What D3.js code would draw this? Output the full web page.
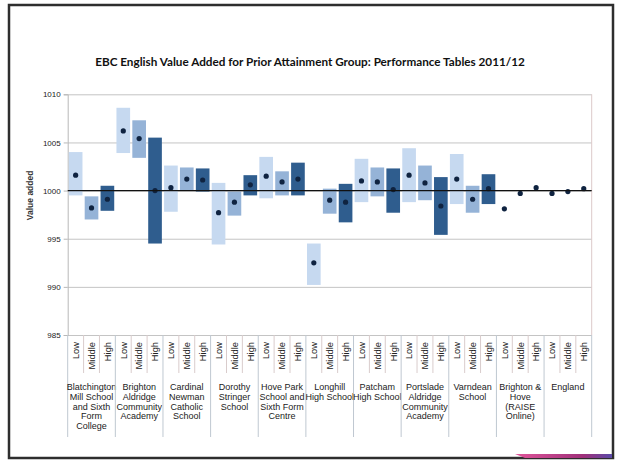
<!DOCTYPE html>
<html>
<head>
<meta charset="utf-8">
<script src="https://cdn.jsdelivr.net/npm/d3@7"></script>
<style>
  html, body { margin: 0; padding: 0; background: #fff; }
  #chart { width: 618px; height: 461px; }
  text { font-family: "Liberation Sans", Arial, sans-serif; }
</style>
</head>
<body>
<div id="chart"></div>
<script>
//Datos
const groups = [
  'Blatchington Mill School and Sixth Form College',
  'Brighton Aldridge Community Academy',
  'Cardinal Newman Catholic School',
  'Dorothy Stringer School',
  'Hove Park School and Sixth Form Centre',
  'Longhill High School',
  'Patcham High School',
  'Portslade Aldridge Community Academy',
  'Varndean School',
  'Brighton & Hove (RAISE Online)',
  'England'
];
const groupLines = [
  ['Blatchington', 'Mill School', 'and Sixth', 'Form', 'College'],
  ['Brighton', 'Aldridge', 'Community', 'Academy'],
  ['Cardinal', 'Newman', 'Catholic', 'School'],
  ['Dorothy', 'Stringer', 'School'],
  ['Hove Park', 'School and', 'Sixth Form', 'Centre'],
  ['Longhill', 'High School'],
  ['Patcham', 'High School'],
  ['Portslade', 'Aldridge', 'Community', 'Academy'],
  ['Varndean', 'School'],
  ['Brighton &', 'Hove', '(RAISE', 'Online)'],
  ['England']
];
const levels = ['Low', 'Middle', 'High'];

//Valor (punto) por grupo: Low, Middle, High
const valueAdded = [
  [1001.6, 998.2, 999.1],
  [1006.2, 1005.4, 1000.0],
  [1000.3, 1001.2, 1001.1],
  [997.7, 998.8, 1000.6],
  [1001.5, 1000.9, 1001.2],
  [992.5, 999.0, 998.8],
  [1001.0, 1000.9, 1000.1],
  [1001.6, 1000.8, 998.4],
  [1001.2, 999.1, 1000.2],
  [998.1, 999.7, 1000.3],
  [999.7, 999.9, 1000.2]
];
//Intervalo de confianza (barras)
const lowerCI = [
  [999.5, 997.0, 997.9],
  [1003.9, 1003.4, 994.5],
  [997.8, 1000.0, 999.9],
  [994.4, 997.4, 999.5],
  [999.2, 999.5, 999.5],
  [990.2, 997.6, 996.7],
  [998.8, 999.4, 997.7],
  [998.8, 999.0, 995.4],
  [998.6, 997.7, 998.6],
  null,
  null
];
const upperCI = [
  [1004.0, 999.4, 1000.5],
  [1008.6, 1007.3, 1005.5],
  [1002.6, 1002.4, 1002.3],
  [1000.8, 999.9, 1001.6],
  [1003.5, 1002.0, 1002.9],
  [994.5, 1000.2, 1000.7],
  [1003.3, 1002.4, 1002.3],
  [1004.4, 1002.6, 1001.4],
  [1003.8, 1000.5, 1001.7],
  null,
  null
];
const yTicks = [985, 990, 995, 1000, 1005, 1010];
const title = 'EBC English Value Added for Prior Attainment Group:  Performance Tables 2011/12';

const COLOR_LOW = '#c6d9f0', COLOR_MID = '#95b3d7', COLOR_HIGH = '#2f5d8e', COLOR_DOT = '#0f2340';

let margin = {top: 94.3, right: 26.3, bottom: 126, left: 67.7},
    fullW = 618, fullH = 461,
    width = fullW - margin.left - margin.right,
    height = fullH - margin.top - margin.bottom;

let root = d3.select('#chart').append('svg')
    .attr('width', fullW)
    .attr('height', fullH);

//Marco exterior
root.append('rect')
    .attr('x', 9).attr('y', 5)
    .attr('width', 604).attr('height', 453)
    .attr('fill', '#fff')
    .attr('stroke', '#2e2e2e')
    .attr('stroke-width', 2.5);

//Titulo
let t = root.append('text')
    .attr('x', 310).attr('y', 66)
    .attr('text-anchor', 'middle')
    .style('font-family', 'Lato, "Open Sans", sans-serif')
    .style('font-weight', 'bold')
    .style('font-size', '12px')
    .attr('fill', '#111')
    .text(title);
let tw = t.node().getComputedTextLength();
t.style('font-size', (12 * 430 / tw) + 'px');

let svg = root.append('g')
    .attr('transform', 'translate(' + margin.left + ',' + margin.top + ')');

let y = d3.scaleLinear().domain([985, 1010]).range([height, 0]);
let x = d3.scaleBand().domain(groups).range([0, width]).padding(0);
let xSub = d3.scaleBand().domain(levels).range([0, x.bandwidth()]).paddingInner(0.14).paddingOuter(0.07);
let color = d3.scaleOrdinal().domain(levels).range([COLOR_LOW, COLOR_MID, COLOR_HIGH]);

//Rejilla
svg.append('g')
    .call(d3.axisLeft(y).tickValues(yTicks).tickSize(-width).tickFormat(''))
    .call(g => g.select('.domain').remove())
    .call(g => g.selectAll('line').attr('stroke', '#c4c4c4'));

//Borde derecho del area
svg.append('line')
    .attr('x1', width).attr('x2', width)
    .attr('y1', 0).attr('y2', height)
    .attr('stroke', '#dcc9c9');

//Eje Y
svg.append('g')
    .call(d3.axisLeft(y).tickValues(yTicks).tickFormat(d3.format('d')).tickSize(4).tickPadding(3))
    .call(g => g.select('.domain').attr('stroke', '#b8b8b8'))
    .call(g => g.selectAll('line').attr('stroke', '#b8b8b8'))
    .call(g => g.selectAll('text').attr('fill', '#222')
        .style('font-family', '"Liberation Sans", Arial, sans-serif')
        .style('font-size', '8px'));

svg.append('text')
    .attr('transform', 'translate(' + (33 - margin.left) + ',' + (y(999.5)) + ') rotate(-90)')
    .attr('text-anchor', 'middle')
    .style('font-size', '8.5px')
    .style('font-weight', 'bold')
    .attr('fill', '#333')
    .text('Value added');

//Barras y puntos
let rows = [];
groups.forEach(function(g, i) {
    levels.forEach(function(l, j) {
        rows.push({
            group: g, level: l,
            value: valueAdded[i][j],
            lo: lowerCI[i] ? lowerCI[i][j] : null,
            hi: upperCI[i] ? upperCI[i][j] : null
        });
    });
});

let cell = svg.append('g').selectAll('g')
    .data(rows)
    .enter()
    .append('g')
    .attr('transform', d => 'translate(' + (x(d.group) + xSub(d.level)) + ',0)');

cell.filter(d => d.lo !== null)
    .append('rect')
    .attr('x', 0)
    .attr('width', xSub.bandwidth())
    .attr('y', d => y(d.hi))
    .attr('height', d => y(d.lo) - y(d.hi))
    .attr('fill', d => color(d.level));

//Linea de 1000
svg.append('line')
    .attr('x1', 0).attr('x2', width)
    .attr('y1', y(1000)).attr('y2', y(1000))
    .attr('stroke', '#111')
    .attr('stroke-width', 1.2);

cell.append('circle')
    .attr('cx', xSub.bandwidth() / 2)
    .attr('cy', d => y(d.value))
    .attr('r', 2.6)
    .attr('fill', COLOR_DOT);

//Eje X de dos niveles
let xAxis = svg.append('g').attr('transform', 'translate(0,' + height + ')');
let sepColor = '#bfc8d1';
let subStep = x.bandwidth() / 3;

groups.forEach(function(g, i) {
    let gx = x(g);
    xAxis.append('line')
        .attr('x1', gx).attr('x2', gx).attr('y1', 0).attr('y2', 102)
        .attr('stroke', sepColor);
    for (let k = 1; k < 3; k++) {
        xAxis.append('line')
            .attr('x1', gx + k * subStep).attr('x2', gx + k * subStep)
            .attr('y1', 0).attr('y2', 38)
            .attr('stroke', '#d9cccc');
    }
    levels.forEach(function(l, k) {
        let cx = gx + (k + 0.5) * subStep;
        xAxis.append('text')
            .attr('transform', 'translate(' + (cx + 3.3) + ',7) rotate(-90)')
            .attr('text-anchor', 'end')
            .style('font-size', '9.3px')
            .attr('fill', '#222')
            .text(l);
    });
    let lab = xAxis.append('text')
        .attr('text-anchor', 'middle')
        .style('font-size', '9px')
        .attr('fill', '#222');
    groupLines[i].forEach(function(line, k) {
        lab.append('tspan')
            .attr('x', gx + x.bandwidth() / 2)
            .attr('y', 55 + k * 9.8)
            .text(line);
    });
});
xAxis.append('line')
    .attr('x1', width).attr('x2', width).attr('y1', 0).attr('y2', 102)
    .attr('stroke', sepColor);

//Tira decorativa abajo a la derecha
let grad = root.append('defs').append('linearGradient').attr('id', 'strip');
grad.append('stop').attr('offset', '0%').attr('stop-color', '#e0559a');
grad.append('stop').attr('offset', '70%').attr('stop-color', '#a0307a');
grad.append('stop').attr('offset', '100%').attr('stop-color', '#5a4aa8');
root.append('path')
    .attr('d', 'M515,454 L612,454 L612,458 L525,458 Z')
    .attr('fill', 'url(#strip)');
</script>
</body>
</html>
